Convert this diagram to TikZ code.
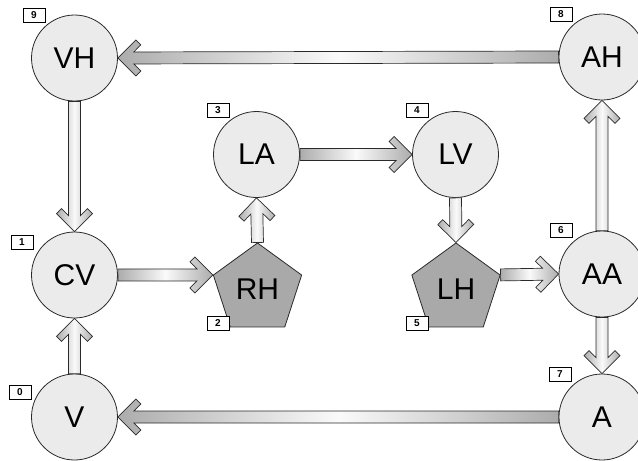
\documentclass[tikz,border=0pt]{standalone}
\usepackage{fontspec}
\setmainfont{Liberation Sans}
\usetikzlibrary{shapes.geometric,calc}
\definecolor{nodefill}{HTML}{EBEBEB}
\definecolor{pentfill}{HTML}{A9A9A9}
\definecolor{edgecol}{HTML}{2A2A2A}
\tikzset{
  circ/.style={circle, draw=edgecol, fill=nodefill, minimum size=86pt, inner sep=0pt,
    font=\fontsize{30}{30}\selectfont, line width=0.8pt},
  pent/.style={regular polygon, regular polygon sides=5, draw=edgecol, fill=pentfill,
    minimum size=92.8pt, inner sep=0pt, font=\fontsize{30}{30}\selectfont, line width=0.8pt},
  numbox/.style={draw=black, fill=white, minimum width=22pt, minimum height=14pt, inner sep=0pt,
    font=\bfseries\fontsize{10}{10}\selectfont, line width=0.8pt},
  fatarrowstyle/.style={draw=edgecol, line width=0.7pt, left color=gray!65, right color=gray!65, middle color=gray!4}
}
\newcommand\fatarrow[2]{%
  \path let \p1=(#1), \p2=(#2), \n1={atan2(\y2-\y1,\x2-\x1)}, \n2={veclen(\x2-\x1,\y2-\y1)} in
    \pgfextra{\pgfmathsetmacro\faang{\n1}\global\let\faang\faang\pgfmathsetmacro\falen{\n2}\global\let\falen\falen};
  \begin{scope}[shift={(#1)}, rotate=\faang, x=1pt, y=1pt]
    \shade[fatarrowstyle] (0,-6) -- ({\falen-15.9},-6) -- ({\falen-22.95},-13.05) -- ({\falen-18},-18)
      -- (\falen,0) -- ({\falen-18},18) -- ({\falen-22.95},13.05) -- ({\falen-15.9},6) -- (0,6) -- cycle;
  \end{scope}}
\begin{document}
\begin{tikzpicture}[x=1pt, y=-1pt]
  \useasboundingbox (0,0) rectangle (638,461);
  \clip (0,0) rectangle (638,461);
  \node[circ] (VH) at (74.5,58) {VH};
  \node[circ] (AH) at (602,57) {AH};
  \node[circ] (LA) at (256.5,154.5) {LA};
  \node[circ] (LV) at (455.5,154.5) {LV};
  \node[circ] (CV) at (74.5,275) {CV};
  \node[circ] (AA) at (602,274) {AA};
  \node[circ] (V) at (74.5,417) {V};
  \node[circ] (A) at (602,417) {A};
  \node[pent] (RH) at (257.5,289.4) {RH};
  \node[pent] (LH) at (456,289.4) {LH};

  \node[numbox] (n9) at (34,15) {9};
  \node[numbox] (n8) at (561,14) {8};
  \node[numbox] (n3) at (218,110) {3};
  \node[numbox] (n4) at (417,110) {4};
  \node[numbox] (n1) at (22,242.5) {1};
  \node[numbox] (n6) at (561,230) {6};
  \node[numbox] (n2) at (218,323) {2};
  \node[numbox] (n5) at (417,323) {5};
  \node[numbox] (n0) at (20,392.5) {0};
  \node[numbox] (n7) at (560,374) {7};

  \fatarrow{AH.west}{VH.east}
  \fatarrow{VH.south}{CV.north}
  \fatarrow{CV.east}{RH.corner 2}
  \fatarrow{RH.corner 1}{LA.south}
  \fatarrow{LA.east}{LV.west}
  \fatarrow{LV.south}{LH.corner 1}
  \fatarrow{LH.corner 5}{AA.west}
  \fatarrow{AA.north}{AH.south}
  \fatarrow{AA.south}{A.north}
  \fatarrow{A.west}{V.east}
  \fatarrow{V.north}{CV.south}
\end{tikzpicture}
\end{document}
